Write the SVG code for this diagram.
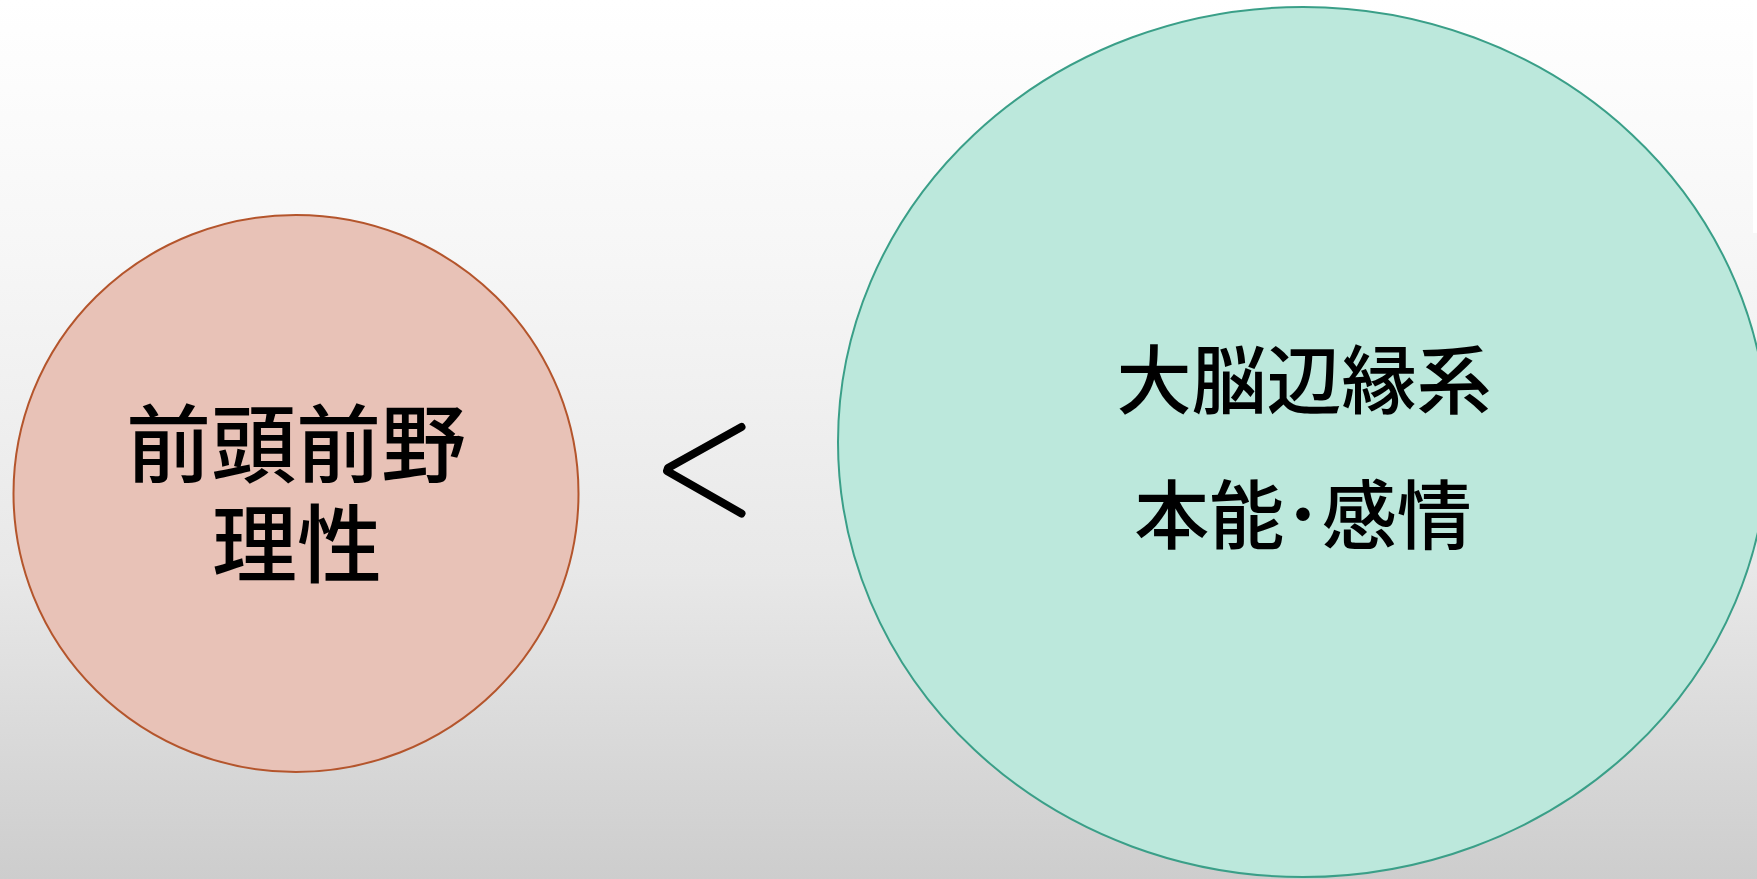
<svg xmlns="http://www.w3.org/2000/svg" width="1757" height="879" viewBox="0 0 1757 879">
  <defs>
    <linearGradient id="bg" x1="0" y1="0" x2="0" y2="1">
      <stop offset="0" stop-color="#ffffff"/>
      <stop offset="0.3" stop-color="#f6f6f6"/>
      <stop offset="0.65" stop-color="#e8e8e8"/>
      <stop offset="1" stop-color="#cdcdcd"/>
    </linearGradient>
    <style>
      .lbl { font-family: "Noto Sans CJK JP", "Noto Sans CJK SC", sans-serif; font-weight: 500; fill: #000; text-anchor: middle; }
      .big { font-size: 85px; }
      .mid { font-size: 75px; }
    </style>
  </defs>
  <rect x="0" y="0" width="1757" height="879" fill="url(#bg)"/>
  <rect x="1753" y="0" width="4" height="233" fill="#ffffff"/>

  <g id="node-prefrontal">
    <ellipse cx="296" cy="493.5" rx="282.5" ry="278.5" fill="#e8c2b7" stroke="#b4552c" stroke-width="2"/>
    <text class="lbl big" x="296" y="476"><tspan x="296" y="476">前頭前野</tspan><tspan x="297" y="576">理性</tspan></text>
  </g>

  <g id="node-limbic">
    <ellipse cx="1303" cy="442" rx="465" ry="435" fill="#bce8dc" stroke="#3a9f88" stroke-width="2"/>
    <text class="lbl mid" x="1304" y="408"><tspan x="1304" y="408">大脳辺縁系</tspan><tspan x="1303" y="543">本能･感情</tspan></text>
  </g>

  <g id="connectors">
    <polyline points="741.5,427 668,468 667,471 741.5,513.5" fill="none" stroke="#000" stroke-width="8" stroke-linecap="round" stroke-linejoin="round"/>
  </g>
</svg>
